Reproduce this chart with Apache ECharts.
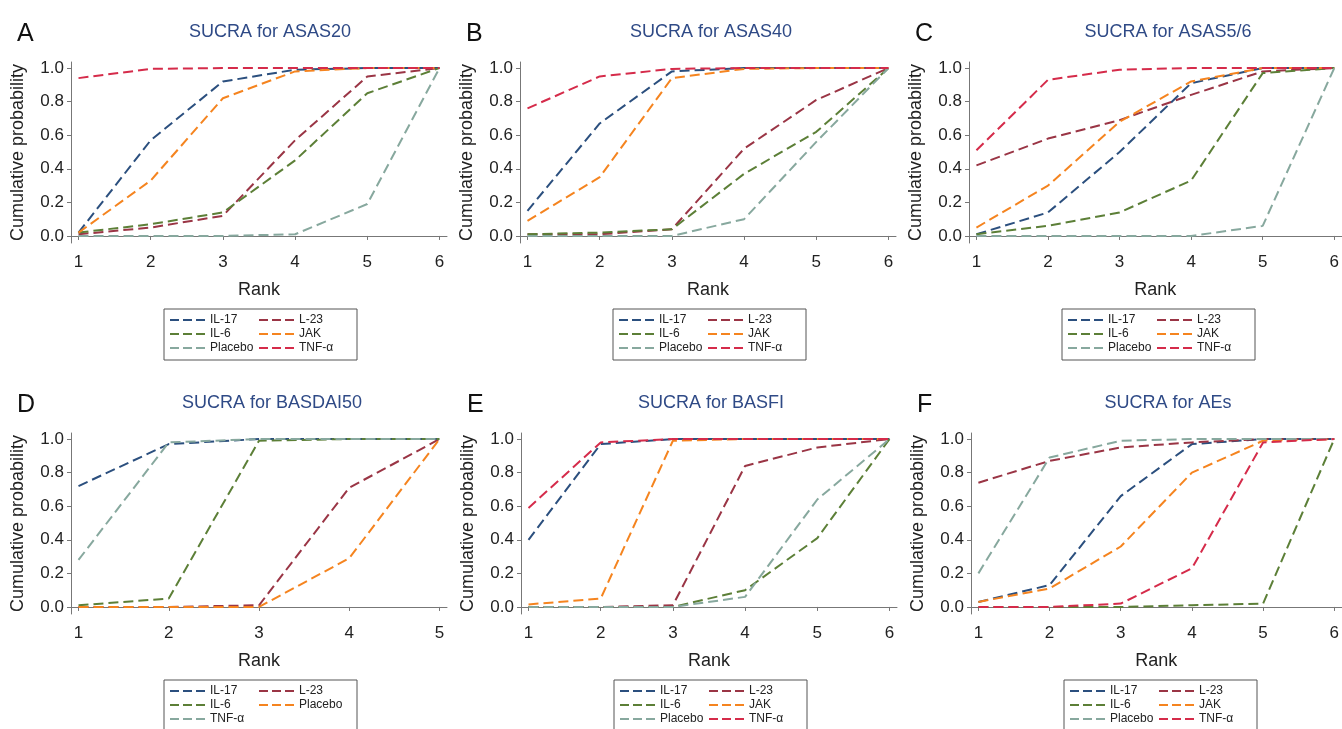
<!DOCTYPE html>
<html>
<head>
<meta charset="utf-8">
<title>SUCRA</title>
<script src="https://cdn.jsdelivr.net/npm/echarts@6/dist/echarts.min.js"></script>
<style>
  html, body { margin: 0; padding: 0; background: #fff; }
  #main { width: 1342px; height: 729px; }
</style>
</head>
<body>
<div id="main"></div>
<script>
// treatments in legend order (row by row)
const names6 = ['IL-17', 'L-23', 'IL-6', 'JAK', 'Placebo', 'TNF-α']
const namesD = ['IL-17', 'L-23', 'IL-6', 'Placebo', 'TNF-α']
// colours follow legend position, not treatment
const colors6 = ['#2b4f7e', '#9a3545', '#5c7f37', '#f5841f', '#87a89e', '#d52b4a']
const colorsD = ['#2b4f7e', '#9a3545', '#5c7f37', '#f5841f', '#87a89e']

const ranks6 = [1, 2, 3, 4, 5, 6]
const ranks5 = [1, 2, 3, 4, 5]
const yTicks = [0, 0.2, 0.4, 0.6, 0.8, 1.0]

// cumulative probabilities, one row per treatment (same order as names)
const asas20 = [
  [0.02, 0.57, 0.92, 0.99, 1.00, 1.00],
  [0.01, 0.05, 0.12, 0.57, 0.95, 1.00],
  [0.02, 0.07, 0.14, 0.45, 0.85, 1.00],
  [0.02, 0.33, 0.82, 0.98, 1.00, 1.00],
  [0.00, 0.00, 0.00, 0.01, 0.19, 1.00],
  [0.94, 0.995, 1.00, 1.00, 1.00, 1.00]
]
const asas40 = [
  [0.15, 0.67, 0.98, 1.00, 1.00, 1.00],
  [0.01, 0.01, 0.04, 0.52, 0.81, 1.00],
  [0.01, 0.02, 0.04, 0.37, 0.62, 1.00],
  [0.09, 0.35, 0.94, 0.995, 1.00, 1.00],
  [0.00, 0.00, 0.00, 0.10, 0.56, 1.00],
  [0.76, 0.95, 0.995, 1.00, 1.00, 1.00]
]
const asas56 = [
  [0.01, 0.14, 0.50, 0.91, 1.00, 1.00],
  [0.42, 0.58, 0.69, 0.84, 0.98, 1.00],
  [0.01, 0.06, 0.14, 0.33, 0.97, 1.00],
  [0.05, 0.30, 0.68, 0.92, 1.00, 1.00],
  [0.00, 0.00, 0.00, 0.00, 0.06, 1.00],
  [0.51, 0.93, 0.99, 1.00, 1.00, 1.00]
]
const basdai50 = [
  [0.72, 0.97, 1.00, 1.00, 1.00],
  [0.00, 0.00, 0.01, 0.71, 1.00],
  [0.01, 0.05, 0.99, 1.00, 1.00],
  [0.00, 0.00, 0.00, 0.29, 1.00],
  [0.28, 0.98, 1.00, 1.00, 1.00]
]
const basfi = [
  [0.40, 0.97, 1.00, 1.00, 1.00, 1.00],
  [0.00, 0.00, 0.01, 0.84, 0.95, 1.00],
  [0.00, 0.00, 0.00, 0.10, 0.41, 1.00],
  [0.015, 0.05, 0.99, 1.00, 1.00, 1.00],
  [0.00, 0.00, 0.00, 0.06, 0.64, 1.00],
  [0.59, 0.98, 1.00, 1.00, 1.00, 1.00]
]
const aes = [
  [0.03, 0.13, 0.66, 0.97, 1.00, 1.00],
  [0.74, 0.87, 0.95, 0.98, 1.00, 1.00],
  [0.00, 0.00, 0.00, 0.01, 0.02, 1.00],
  [0.03, 0.11, 0.36, 0.80, 0.99, 1.00],
  [0.20, 0.89, 0.99, 1.00, 1.00, 1.00],
  [0.00, 0.00, 0.02, 0.23, 0.98, 1.00]
]

const panels = [
  { key: 'A', title: 'SUCRA for ASAS20',   data: asas20,   names: names6, colors: colors6, ranks: ranks6, left: 71,  top: 62,  titleX: 265 },
  { key: 'B', title: 'SUCRA for ASAS40',   data: asas40,   names: names6, colors: colors6, ranks: ranks6, left: 520, top: 62,  titleX: 706 },
  { key: 'C', title: 'SUCRA for ASAS5/6',  data: asas56,   names: names6, colors: colors6, ranks: ranks6, left: 969, top: 62,  titleX: 1163 },
  { key: 'D', title: 'SUCRA for BASDAI50', data: basdai50, names: namesD, colors: colorsD, ranks: ranks5, left: 71,  top: 433, titleX: 267 },
  { key: 'E', title: 'SUCRA for BASFI',    data: basfi,    names: names6, colors: colors6, ranks: ranks6, left: 521, top: 433, titleX: 706 },
  { key: 'F', title: 'SUCRA for AEs',      data: aes,      names: names6, colors: colors6, ranks: ranks6, left: 971, top: 433, titleX: 1163 }
]

const font = 'Liberation Sans, Arial, Helvetica, sans-serif'
const gridW = 376
const gridH = 181
// three short dashes for the legend key
const dashIcon = 'path://M0,0h9v2h-9z M13,0h9v2h-9z M26,0h9v2h-9z'

let chart = null
const drawChart = () => {
  chart = echarts.init(document.getElementById('main'), null, { renderer: 'canvas' })

  const grid = [], xAxis = [], yAxis = [], series = [], legend = [], title = []

  panels.forEach((p, i) => {
    const nR = p.ranks.length
    const pad = 7.5 / (361 / (nR - 1))
    grid.push({ left: p.left, top: p.top, width: gridW, height: gridH })

    xAxis.push({
      gridIndex: i,
      type: 'value',
      min: 1 - pad,
      max: nR + pad,
      name: 'Rank',
      nameLocation: 'middle',
      nameGap: 38,
      nameTextStyle: { fontFamily: font, fontSize: 18, color: '#222' },
      axisLine: { lineStyle: { color: '#777', width: 1 } },
      axisTick: { length: 4, lineStyle: { color: '#777' }, customValues: p.ranks },
      axisLabel: { customValues: p.ranks, fontFamily: font, fontSize: 17, color: '#222', margin: 11 },
      splitLine: { show: false }
    })

    yAxis.push({
      gridIndex: i,
      type: 'value',
      min: -0.042,
      max: 1.036,
      name: 'Cumulative probability',
      nameLocation: 'middle',
      nameGap: 44,
      nameTextStyle: { fontFamily: font, fontSize: 18, color: '#222' },
      axisLine: { show: true, lineStyle: { color: '#777', width: 1 } },
      axisTick: { show: true, length: 4, lineStyle: { color: '#777' }, customValues: yTicks },
      axisLabel: {
        customValues: yTicks,
        fontFamily: font, fontSize: 17, color: '#222', margin: 7,
        formatter: v => v.toFixed(1)
      },
      splitLine: { show: false }
    })

    const legendData = []
    p.names.forEach((n, j) => {
      const sName = n + '#' + p.key
      legendData.push({ name: sName, icon: dashIcon })
      series.push({
        name: sName,
        type: 'line',
        xAxisIndex: i,
        yAxisIndex: i,
        symbol: 'none',
        silent: true,
        animation: false,
        lineStyle: { color: p.colors[j], width: 2, type: [10, 5] },
        itemStyle: { color: p.colors[j] },
        data: p.ranks.map((r, k) => [r, p.data[j][k]])
      })
    })

    legend.push({
      data: legendData,
      left: p.left + 93,
      top: p.top + 247,
      width: 180,
      orient: 'horizontal',
      itemGap: 0,
      itemWidth: 35,
      itemHeight: 2,
      padding: [4, 9, 5, 6],
      borderColor: '#555',
      borderWidth: 1,
      selectedMode: false,
      formatter: name => name.split('#')[0],
      textStyle: { fontFamily: font, fontSize: 12, color: '#222', width: 49, lineHeight: 14 }
    })

    title.push({
      text: p.title,
      left: p.titleX,
      top: p.top - 44,
      textAlign: 'center',
      textStyle: { fontFamily: font, fontSize: 18, fontWeight: 'normal', color: '#2f4a86' }
    })
    title.push({
      text: p.key,
      left: p.left - 59,
      top: p.top - 45,
      textStyle: { fontFamily: font, fontSize: 25, fontWeight: 'normal', color: '#111' }
    })
  })

  chart.setOption({
    backgroundColor: '#fff',
    animation: false,
    title: title,
    legend: legend,
    grid: grid,
    xAxis: xAxis,
    yAxis: yAxis,
    series: series
  })
}

const resize = () => {
  chart && chart.resize()
}

drawChart()
window.addEventListener('resize', resize)
</script>
</body>
</html>
